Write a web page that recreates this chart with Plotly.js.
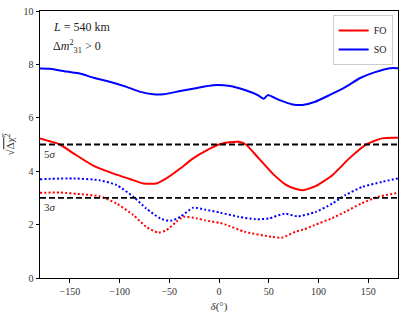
<!DOCTYPE html>
<html><head><meta charset="utf-8">
<script src="https://cdn.plot.ly/plotly-3.0.1.min.js"></script>
<style>html,body{margin:0;padding:0;background:#fff}#plot{width:409px;height:315px}</style>
</head><body><div id="plot"></div>
<script>
const foSolidX = [-180,-170,-160,-146,-126,-106,-89,-76,-63,-53,-39,-26,-12,0,10,20,27,40,54,67,76,84,97,114,131,147,164,180];
const foSolidY = [5.23,5.12,5.0,4.66,4.2,3.91,3.70,3.54,3.54,3.73,4.10,4.48,4.79,5.0,5.08,5.1,5.0,4.48,3.91,3.50,3.35,3.29,3.44,3.85,4.48,4.98,5.23,5.25];
const soSolidX = [-180,-170,-153,-140,-126,-110,-93,-79,-66,-56,-39,-22,-6,11,26,39,45,49,61,73,84,96,111,127,142,157,172,180];
const soSolidY = [7.85,7.84,7.73,7.66,7.50,7.35,7.16,6.97,6.88,6.88,7.0,7.12,7.22,7.19,7.04,6.85,6.71,6.85,6.66,6.51,6.48,6.59,6.85,7.15,7.49,7.71,7.86,7.86];
const foDotX = [-180,-160,-136,-120,-103,-86,-73,-61,-53,-43,-36,-22,-14,1,6,26,53,63,77,86,96,113,127,143,160,180];
const foDotY = [3.19,3.20,3.13,3.06,2.79,2.35,1.91,1.70,1.79,2.10,2.29,2.23,2.16,2.06,2.01,1.73,1.54,1.51,1.73,1.83,1.98,2.23,2.48,2.79,3.04,3.19];
const soDotX = [-180,-146,-120,-103,-86,-73,-59,-49,-39,-26,-14,1,20,37,50,66,79,97,114,127,144,164,180];
const soDotY = [3.70,3.73,3.66,3.48,3.04,2.60,2.23,2.14,2.29,2.63,2.56,2.45,2.29,2.2,2.23,2.41,2.31,2.47,2.79,3.10,3.41,3.60,3.73];
const sigmaLevels = [5,3];
const sigmaLabels = ['5<i>σ</i>','3<i>σ</i>'];
const xTicks = [-150,-100,-50,0,50,100,150];
const yTicks = [0,2,4,6,8,10];

const serif = 'Liberation Serif, DejaVu Serif, serif';
const dotStyle = '2px,2.2px';
const traces = [
  {x: foSolidX, y: foSolidY, mode:'lines', name:'FO', line:{color:'#ff0000', width:2, shape:'spline', smoothing:0.6}},
  {x: soSolidX, y: soSolidY, mode:'lines', name:'SO', line:{color:'#0000ff', width:2, shape:'spline', smoothing:0.5}},
  {x: foDotX, y: foDotY, mode:'lines', showlegend:false, line:{color:'#ff0000', width:2, dash:dotStyle, shape:'spline', smoothing:0.6}},
  {x: soDotX, y: soDotY, mode:'lines', showlegend:false, line:{color:'#0000ff', width:2, dash:dotStyle, shape:'spline', smoothing:0.6}}
];
sigmaLevels.forEach(v => traces.push({x:[-180,180], y:[v,v], mode:'lines', showlegend:false, line:{color:'#000', width:1.8, dash:'6px,3px'}}));

const annotations = [
  {xref:'paper', yref:'paper', x:0.03, y:0.975, xanchor:'left', yanchor:'top', showarrow:false, align:'left',
   text:'<i>L</i> = 540 km', font:{family:serif, size:12, color:'#222'}},
  {xref:'paper', yref:'paper', x:0.03, y:0.905, xanchor:'left', yanchor:'top', showarrow:false, align:'left',
   text:'Δ<i>m</i><sup>2</sup><sub>31</sub> > 0', font:{family:serif, size:12, color:'#222'}}
];
sigmaLevels.forEach((v,i) => annotations.push({x:-178, y:v, xref:'x', yref:'y', xanchor:'left', yanchor:'top', yshift:-1, showarrow:false,
  text:sigmaLabels[i], font:{family:serif, size:11, color:'#333'}}));

const layout = {
  width:409, height:315,
  margin:{l:40, r:11, t:11, b:37},
  paper_bgcolor:'#fff', plot_bgcolor:'#fff',
  font:{family:serif, size:10, color:'#333'},
  xaxis:{range:[-180,180], tickvals:xTicks, ticktext:xTicks.map(v=>v<0?'−'+Math.abs(v):String(v)),
    showgrid:false, zeroline:false, showline:true, mirror:true, linecolor:'#000', linewidth:1,
    ticks:'outside', ticklen:3.5, tickcolor:'#000',
    title:{text:'<i>δ</i>(°)', font:{family:serif, size:11, color:'#333'}, standoff:6}},
  yaxis:{range:[0,10], tickvals:yTicks, showgrid:false, zeroline:false, showline:true, mirror:true, linecolor:'#000', linewidth:1,
    ticks:'outside', ticklen:3.5, tickcolor:'#000',
    title:{text:'√<span style="text-decoration:overline">Δχ<sup>2</sup></span>', font:{family:serif, size:11, color:'#333'}, standoff:6}},
  showlegend:true,
  legend:{x:0.985, y:0.985, xanchor:'right', yanchor:'top', bgcolor:'rgba(255,255,255,0.9)', bordercolor:'#ccc', borderwidth:1,
    font:{family:serif, size:10, color:'#222'}, tracegroupgap:0, itemwidth:30},
  annotations: annotations
};
Plotly.newPlot('plot', traces, layout, {displayModeBar:false, staticPlot:true});
</script></body></html>
